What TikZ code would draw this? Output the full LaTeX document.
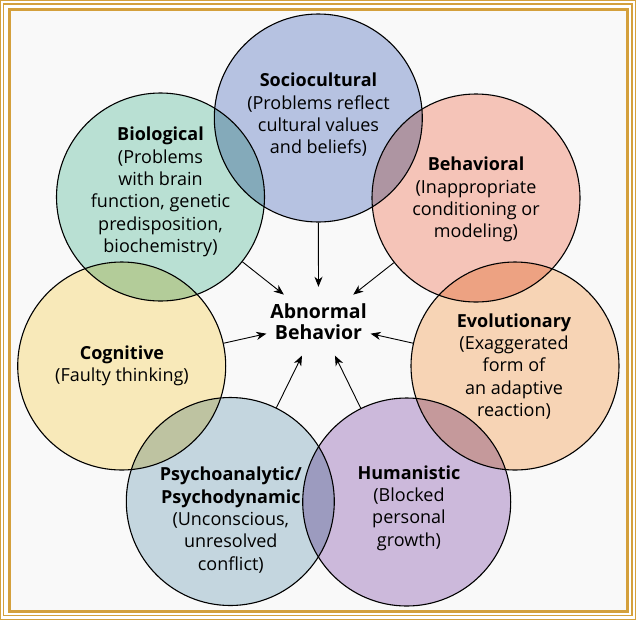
\documentclass[tikz,border=0pt]{standalone}
\usepackage{fontspec}
\setmainfont{Open Sans}
\usepackage{tikz}
\usetikzlibrary{shapes.geometric,arrows.meta}
\definecolor{gold}{HTML}{D4A03C}
\definecolor{paper}{HTML}{F9F9F9}
\definecolor{sociofill}{HTML}{B6C2E1}
\definecolor{biofill}{HTML}{B9E0D3}
\definecolor{behavfill}{HTML}{F5C4B8}
\definecolor{cogfill}{HTML}{F8E9B9}
\definecolor{evolfill}{HTML}{F7D4B5}
\definecolor{psychfill}{HTML}{C4D6DF}
\definecolor{humanfill}{HTML}{CCB9DB}

\begin{document}
\begin{tikzpicture}[x=1pt, y=-1pt,
    ring/.style={circle, draw=black, line width=1.1pt, minimum size=208pt, inner sep=0pt},
    lbl/.style={align=center, inner sep=0pt, font=\fontsize{18}{22.3}\selectfont},
    arr/.style={-{Stealth[length=10pt, width=8pt, inset=3pt]}, line width=0.9pt}
]
    % Frame
    \useasboundingbox (0,0) rectangle (637,622);
    \fill[white] (0,0) rectangle (637,622);
    \fill[paper] (9.3,9.5) rectangle (627.3,611.3);
    \draw[gold, line width=1.4pt] (0.7,0.6) rectangle (635.2,619.7);
    \draw[gold, line width=1.5pt] (3.5,4) rectangle (631.8,615.5);
    \draw[gold, line width=2.4pt] (9.3,9.5) rectangle (627.3,611.3);

    % Circles
    \begin{scope}[blend group=multiply]
        \node[ring, fill=sociofill] (socio) at (318.3,118) {};
        \node[ring, fill=biofill] (bio) at (160.5,197) {};
        \node[ring, fill=behavfill] (behav) at (476,198) {};
        \node[ring, fill=cogfill] (cog) at (121.7,366) {};
        \node[ring, fill=evolfill] (evol) at (515,366) {};
        \node[ring, fill=psychfill] (psych) at (230.3,501.5) {};
        \node[ring, fill=humanfill] (human) at (406.7,502) {};
    \end{scope}

    % Labels
    \node[lbl] (sociotext) at (318.5,115) {\textbf{Sociocultural}\\(Problems reflect\\cultural values\\and beliefs)};
    \node[lbl] (biotext) at (160.5,192) {\textbf{Biological}\\(Problems\\with brain\\function, genetic\\predisposition,\\biochemistry)};
    \node[lbl] (behavtext) at (476,199.5) {\textbf{Behavioral}\\(Inappropriate\\conditioning or\\modeling)};
    \node[lbl] (cogtext) at (122,365.5) {\textbf{Cognitive}\\(Faulty thinking)};
    \node[lbl] (evoltext) at (514,366.5) {\textbf{Evolutionary}\\(Exaggerated\\form of\\an adaptive\\reaction)};
    \node[lbl] (psychtext) at (230.8,520) {\textbf{Psychoanalytic/}\\\textbf{Psychodynamic}\\(Unconscious,\\unresolved\\conflict)};
    \node[lbl] (humantext) at (409,508) {\textbf{Humanistic}\\(Blocked\\personal\\growth)};

    % Centre
    \node[ellipse, inner sep=-30pt, minimum width=110pt, minimum height=70pt, align=center,
        font=\fontsize{19.5}{21}\selectfont\bfseries] (ab) at (318.5,322) {Abnormal\\Behavior};

    % Arrows
    \draw[arr] (socio) -- (ab);
    \draw[arr] (bio) -- (ab);
    \draw[arr] (behav) -- (ab);
    \draw[arr] (cog) -- (ab);
    \draw[arr] (evol) -- (ab);
    \draw[arr] (psych) -- (ab);
    \draw[arr] (human) -- (ab);
\end{tikzpicture}
\end{document}
